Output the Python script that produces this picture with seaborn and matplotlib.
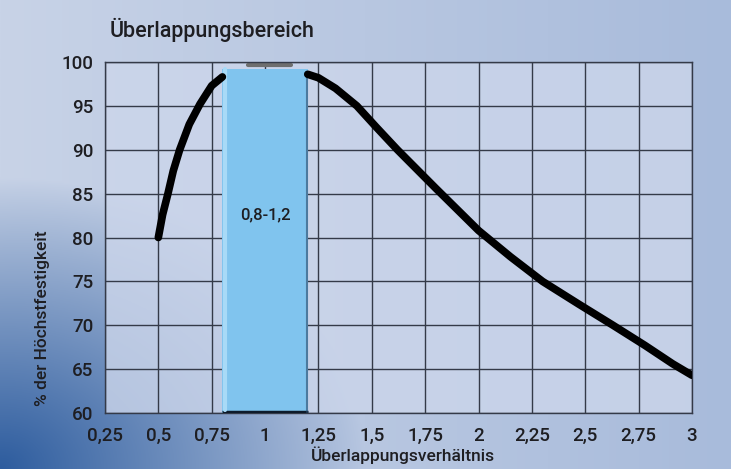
import numpy as np
import pandas as pd
import seaborn as sns
import matplotlib.pyplot as plt

# Werte
links_x = [0.5, 0.52, 0.545, 0.57, 0.6, 0.645, 0.695, 0.75, 0.8]
links_y = [80.0, 82.6, 85.0, 87.6, 90.0, 92.9, 95.2, 97.3, 98.3]
rechts_x = [1.2, 1.25, 1.33, 1.43, 1.52, 1.62, 1.8, 2.0, 2.15, 2.3, 2.47, 2.63, 2.78, 2.91, 3.0]
rechts_y = [98.6, 98.2, 97.0, 95.0, 92.6, 90.0, 85.6, 80.8, 77.8, 75.0, 72.4, 70.0, 67.7, 65.6, 64.3]

bereich_von = 0.8
bereich_bis = 1.2
bereich_oben = 99.2
bereich_text = '0,8-1,2'

x_ticks = [0.25, 0.5, 0.75, 1, 1.25, 1.5, 1.75, 2, 2.25, 2.5, 2.75, 3]
x_labels = ['0,25', '0,5', '0,75', '1', '1,25', '1,5', '1,75', '2', '2,25', '2,5', '2,75', '3']
y_ticks = [60, 65, 70, 75, 80, 85, 90, 95, 100]

sns.set_theme(style='white')
plt.rcParams['font.family'] = ['Roboto', 'DejaVu Sans']
textfarbe = '#1e1e22'

fig = plt.figure(figsize=(7.31, 4.69), dpi=100)

# Hintergrund mit Farbverlauf (unten links dunkelblau)
bg = fig.add_axes([0, 0, 1, 1])
gx, gy = np.meshgrid(np.linspace(0, 1, 400), np.linspace(0, 1, 260))
links = np.array([200, 211, 231]) / 255
rechts = np.array([168, 187, 219]) / 255
basis = links[None, None, :] * (1 - gx[..., None]) + rechts[None, None, :] * gx[..., None]
d = np.sqrt((gx / 0.5) ** 2 + (gy / 0.62) ** 2)
w = np.clip(1 - d, 0, 1) ** 0.9
dunkel = np.array([45, 92, 158]) / 255
img = basis * (1 - w[..., None]) + dunkel[None, None, :] * w[..., None]
bg.imshow(img, origin='lower', extent=[0, 1, 0, 1], aspect='auto')
bg.axis('off')

ax = fig.add_axes([0.1436, 0.1194, 0.8030, 0.7484])
ax.set_facecolor((0.80, 0.84, 0.92, 0.8))

# Überlappungsbereich als Balken
ax.bar((bereich_von + bereich_bis) / 2, bereich_oben - 60, bottom=60,
       width=bereich_bis - bereich_von, color='#80c4ee', edgecolor='none',
       linewidth=0, zorder=3)
ax.plot([bereich_von, bereich_bis], [60.15, 60.15], color='#0d1a2a', lw=2.5,
        zorder=4, solid_capstyle='butt')
ax.plot([bereich_bis - 0.005, bereich_bis - 0.005], [60.1, bereich_oben - 0.3],
        color='#2a4a6a', lw=1.5, alpha=0.6, zorder=4)
ax.plot([bereich_von + 0.01, bereich_von + 0.01], [60.3, bereich_oben],
        color='#a8daf7', lw=3, zorder=4)
ax.plot([0.92, 1.12], [bereich_oben + 0.45, bereich_oben + 0.45], color='#6e6e6e',
        lw=3, zorder=2, solid_capstyle='round')
ax.text(1.0, 82.6, bereich_text, ha='center', va='center', fontsize=12,
        fontweight='medium', color=textfarbe, zorder=5)

df_links = pd.DataFrame({'x': links_x, 'y': links_y})
df_rechts = pd.DataFrame({'x': rechts_x, 'y': rechts_y})
for df in (df_links, df_rechts):
    sns.lineplot(data=df, x='x', y='y', ax=ax, color='black', lw=5.5,
                 zorder=6, sort=False)

ax.set_xlim(0.25, 3)
ax.set_ylim(60, 100)
ax.set_xticks(x_ticks)
ax.set_xticklabels(x_labels)
ax.set_yticks(y_ticks)
ax.grid(True, color='#343a48', lw=1.0, zorder=1)
ax.set_axisbelow(True)
for s in ax.spines.values():
    s.set_color('#343a48')
    s.set_linewidth(1.0)
ax.tick_params(axis='x', length=0, pad=10, labelsize=13.5, labelcolor=textfarbe)
ax.tick_params(axis='y', length=0, pad=8.5, labelsize=13.5, labelcolor=textfarbe)
for lab in ax.get_xticklabels() + ax.get_yticklabels():
    lab.set_fontweight('medium')

ax.set_xlabel('')
ax.set_ylabel('')
fig.text(403 / 731, 1 - 455 / 469, 'Überlappungsverhältnis', fontsize=12.5,
         fontweight='medium', color=textfarbe, ha='center', va='center')
fig.text(43 / 731, 1 - 318 / 469, '% der Höchstfestigkeit', fontsize=12.5,
         fontweight='medium', color=textfarbe, ha='center', va='center',
         rotation=90)
fig.text(110 / 731, 1 - 30 / 469, 'Überlappungsbereich', fontsize=15.5,
         fontweight='medium', color=textfarbe, va='center')

plt.savefig('out.png', dpi=100)
plt.close()
